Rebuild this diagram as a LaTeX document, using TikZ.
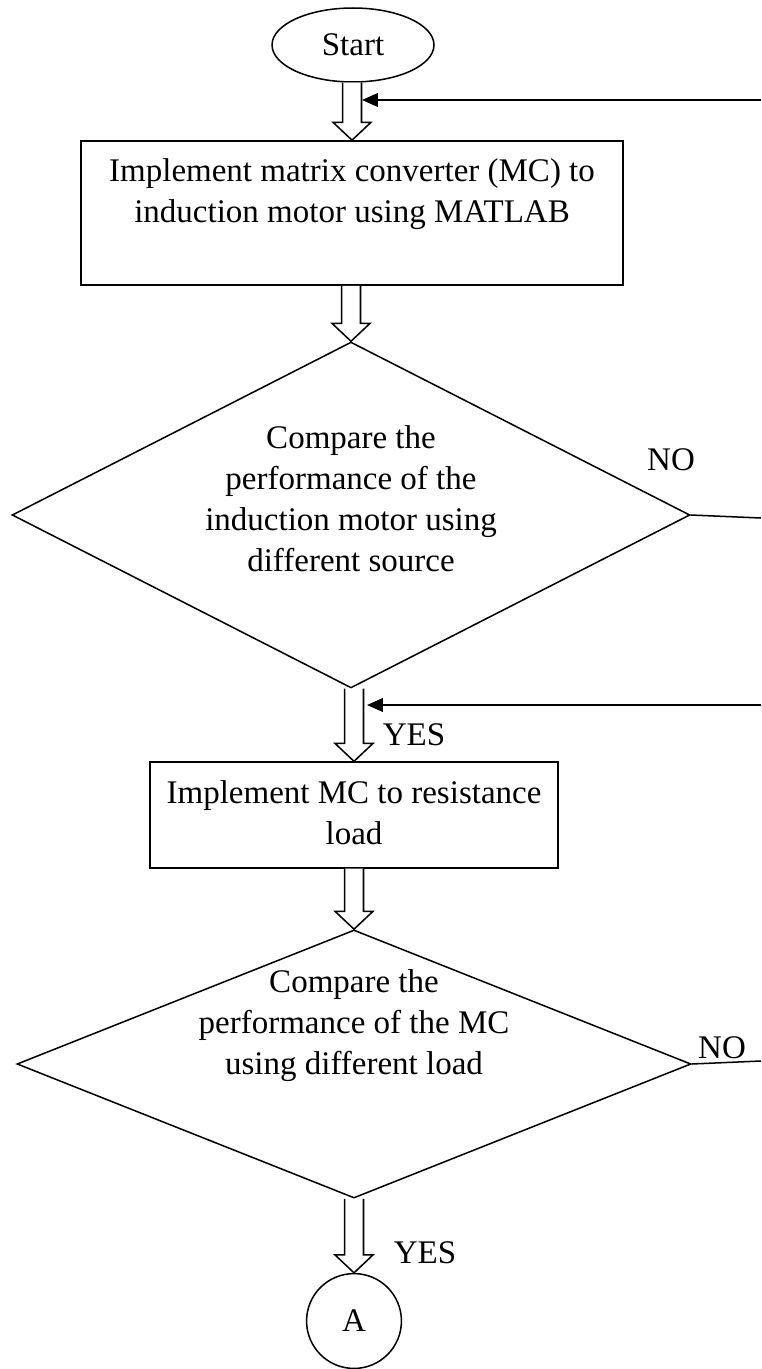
\documentclass[tikz,border=0pt]{standalone}
\usepackage{fontspec}
\setmainfont{Liberation Serif}
\usetikzlibrary{shapes.geometric,arrows.meta,calc}
% hollow block arrow from the first point down to the second
\newcommand\blockarrow[2]{%
  \draw[hollow] let \p1=(#1), \p2=(#2) in
    (\x2-3.45pt,\y1) -- (\x2-3.45pt,\y2+6.5pt) -- (\x2-6.9pt,\y2+6.5pt) --
    (\x2,\y2) -- (\x2+6.9pt,\y2+6.5pt) -- (\x2+3.45pt,\y2+6.5pt) -- (\x2+3.45pt,\y1);}
\begin{document}
\begin{tikzpicture}[x=0.36364pt,y=-0.36364pt,
  every node/.style={font=\fontsize{12}{14.9}\selectfont},
  outline/.style={draw=black,line width=0.55pt,inner sep=0pt},
  boxnode/.style={outline,rectangle},
  decision/.style={outline,diamond},
  txt/.style={anchor=base,inner sep=0pt},
  hollow/.style={draw=black,line width=0.55pt,fill=white,line join=miter},
  fb/.style={draw=black,line width=0.55pt,-{Triangle[length=5.8pt,width=5pt]}},
  link/.style={draw=black,line width=0.55pt}]
\useasboundingbox (0,0) rectangle (761,1369);

% terminals
\node[outline,ellipse,minimum width=58.9pt,minimum height=26.9pt] (start) at (353,45) {Start};
\node[outline,circle,minimum size=34.5pt] (conA) at (354,1321) {A};

% process boxes
\node[boxnode,minimum width=197.1pt,minimum height=52.4pt] (box1) at (352,213) {};
\node[txt] (box1a) at (352,182) {Implement matrix converter (MC) to};
\node[txt] (box1b) at (352,223) {induction motor using MATLAB};

\node[boxnode,minimum width=148.4pt,minimum height=38.5pt] (box2) at (354,815) {};
\node[txt] (box2a) at (354,803) {Implement MC to resistance};
\node[txt] (box2b) at (354,844) {load};

% decisions
\node[decision,minimum width=246.5pt,minimum height=125.8pt] (dec1) at (351,515) {};
\node[txt] (dec1a) at (351,448) {Compare the};
\node[txt] (dec1b) at (351,489) {performance of the};
\node[txt] (dec1c) at (351,530) {induction motor using};
\node[txt] (dec1d) at (351,571) {different source};

\node[decision,minimum width=245.1pt,minimum height=97.5pt] (dec2) at (354,1064) {};
\node[txt] (dec2a) at (354,992) {Compare the};
\node[txt] (dec2b) at (354,1033) {performance of the MC};
\node[txt] (dec2c) at (354,1074) {using different load};

% branch labels
\node[txt] (no1) at (671,470) {NO};
\node[txt] (yes1) at (414,745) {YES};
\node[txt] (no2) at (722,1058) {NO};
\node[txt] (yes2) at (425,1263) {YES};

% main flow
\blockarrow{start.south}{box1.north}
\blockarrow{box1.south}{dec1.north}
\blockarrow{dec1.south}{box2.north}
\blockarrow{box2.south}{dec2.north}
\blockarrow{dec2.south}{conA.north}

% loop-back lines running off the right edge
\coordinate (ret1) at (761,100);
\coordinate (tip1) at (362,100);
\coordinate (out1) at (761,518);
\coordinate (ret2) at (761,705);
\coordinate (tip2) at (367,705);
\coordinate (out2) at (761,1061);

\draw[fb] (ret1) -- (tip1);
\draw[link] (dec1.east) -- (out1);
\draw[fb] (ret2) -- (tip2);
\draw[link] (dec2.east) -- (out2);
\end{tikzpicture}
\end{document}
